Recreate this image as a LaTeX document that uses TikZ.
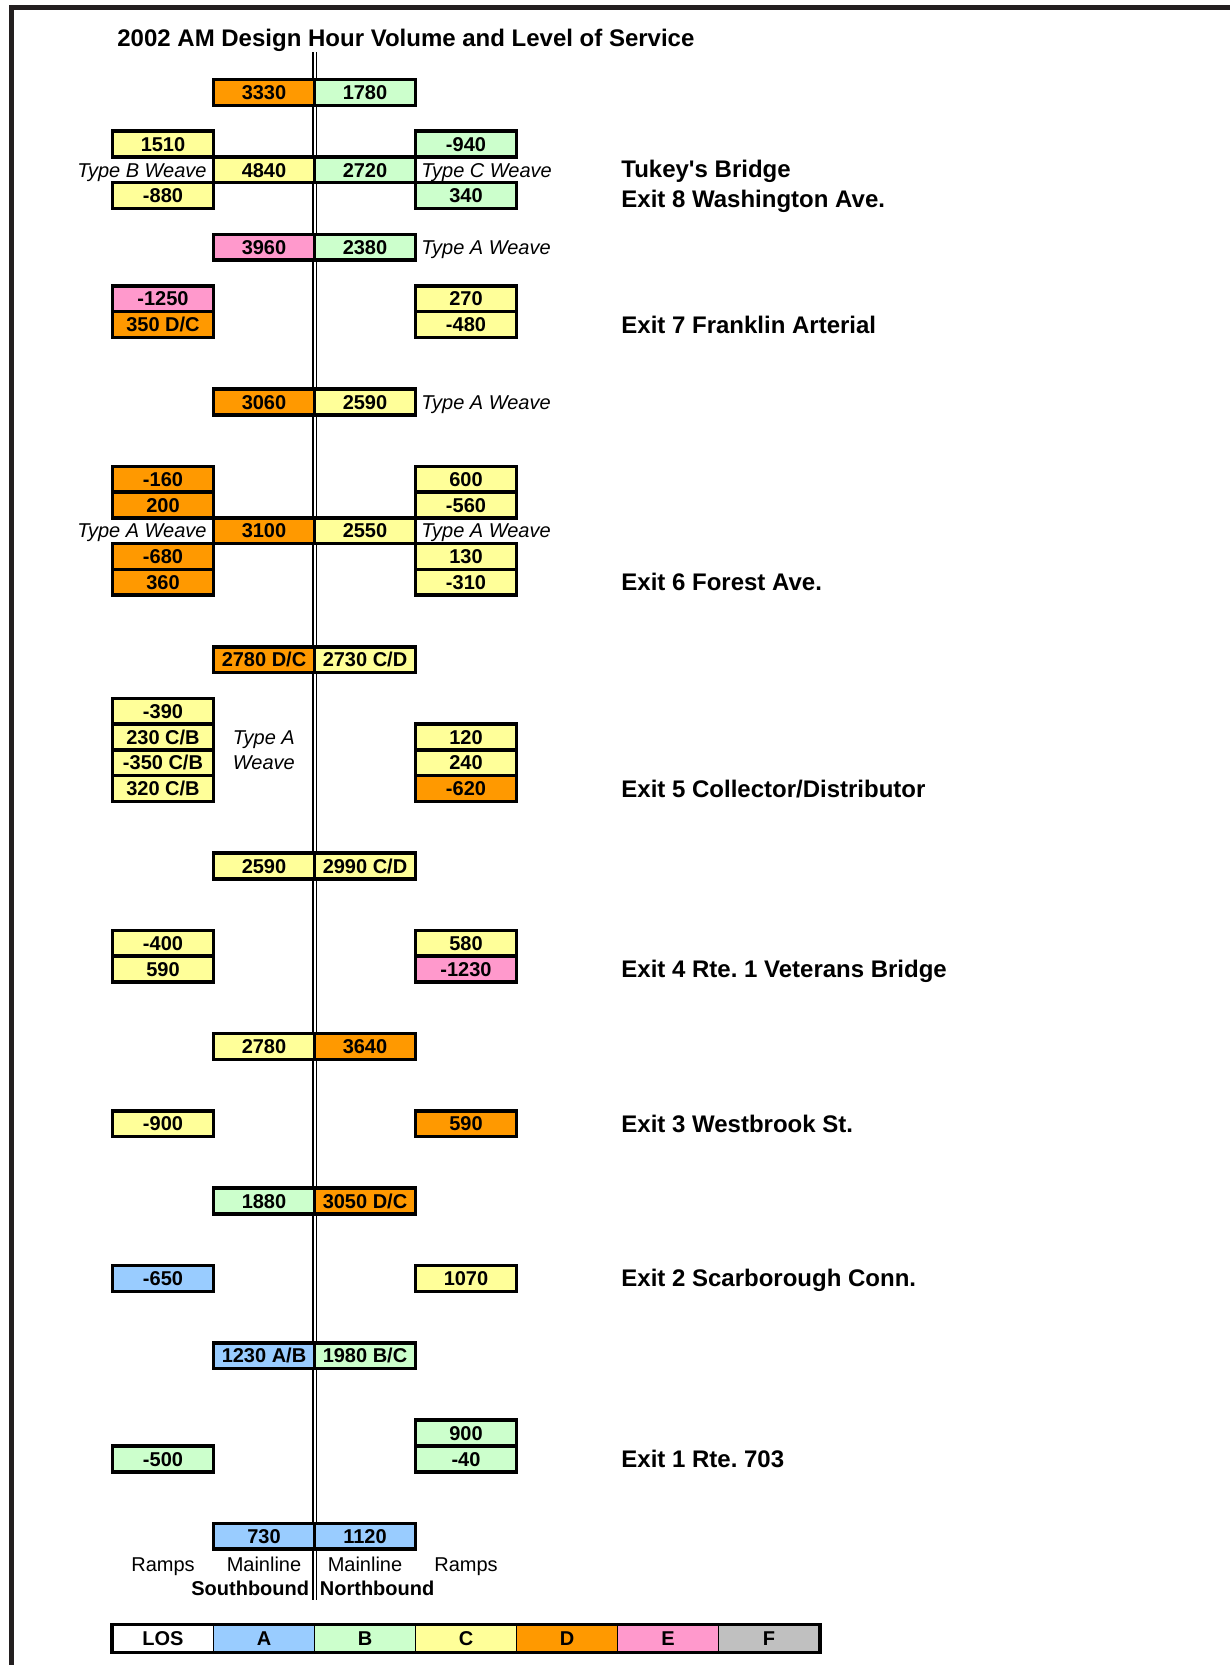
\documentclass[tikz,border=0pt]{standalone}
\usepackage{fontspec}
\setmainfont{Liberation Sans}[Ligatures=TeXOff]
\definecolor{losA}{RGB}{153,204,255}
\definecolor{losB}{RGB}{204,255,204}
\definecolor{losC}{RGB}{255,255,153}
\definecolor{losD}{RGB}{255,153,0}
\definecolor{losE}{RGB}{255,153,204}
\definecolor{losF}{RGB}{192,192,192}
\definecolor{framec}{RGB}{35,31,32}
\newcommand{\bx}[5]{\node[bx,fill=#4] (#1) at (#2,{ry(#3)}) {#5};}
\begin{document}
\frenchspacing
\begin{tikzpicture}[x=0.5pt,y=-0.5pt,
  declare function={ry(\n)=92.5+25.78*\n;},
  bx/.style={draw=black,line width=1.75pt,minimum width=50.5pt,minimum height=12.9pt,inner sep=0pt,
    font=\bfseries\fontsize{10}{12}\selectfont,text height=7.2pt,text depth=0pt},
  wvl/.style={font=\itshape\fontsize{10}{12}\selectfont,inner sep=0pt,text height=7.2pt,text depth=0pt,anchor=east},
  wvr/.style={font=\itshape\fontsize{10}{12}\selectfont,inner sep=0pt,text height=7.2pt,text depth=0pt,anchor=west},
  exl/.style={font=\bfseries\fontsize{12}{14}\selectfont,inner sep=0pt,text height=8.6pt,text depth=0pt,anchor=west},
  btl/.style={font=\fontsize{10}{12}\selectfont,inner sep=0pt,text height=7.2pt,text depth=0pt},
  btb/.style={font=\bfseries\fontsize{10}{12}\selectfont,inner sep=0pt,text height=7.2pt,text depth=0pt},
  lg/.style={draw=black,line width=0.7pt,minimum width=50.5pt,minimum height=13.5pt,inner sep=0pt,
    font=\bfseries\fontsize{10}{12}\selectfont,text height=7.2pt,text depth=0pt}
]
\useasboundingbox (0,0) rectangle (1230,1665);
% frame
\coordinate (frb) at (11.5,1665);
\coordinate (frc) at (11.5,7.5);
\coordinate (frr) at (1230,7.5);
\draw[framec,line width=2.5pt,line join=miter] (frb) -- (frc) -- (frr);
% title
\node[exl,anchor=west] (title) at (117,37.5) {2002 AM Design Hour Volume and Level of Service};
% centre double line
\coordinate (dlt) at (314.5,52);
\coordinate (dlb) at (314.5,1600);
\draw[line width=0.7pt] ([xshift=-0.85pt]dlt) -- ([xshift=-0.85pt]dlb);
\draw[line width=0.7pt] ([xshift=0.85pt]dlt) -- ([xshift=0.85pt]dlb);
% columns: c0=163, c1=264, c2=365, c3=466
\bx{a1}{264}{0}{losD}{3330}
\bx{a2}{365}{0}{losB}{1780}
\bx{b0}{163}{2}{losC}{1510}
\bx{b3}{466}{2}{losB}{-940}
\bx{c1}{264}{3}{losC}{4840}
\bx{c2}{365}{3}{losB}{2720}
\node[wvl] (cwl) at (207,{ry(3)}) {Type B Weave};
\node[wvr] (cwr) at (421,{ry(3)}) {Type C Weave};
\bx{d0}{163}{4}{losC}{-880}
\bx{d3}{466}{4}{losB}{340}
\bx{e1}{264}{6}{losE}{3960}
\bx{e2}{365}{6}{losB}{2380}
\node[wvr] (ewr) at (421,{ry(6)}) {Type A Weave};
\bx{f0}{163}{8}{losE}{-1250}
\bx{f3}{466}{8}{losC}{270}
\bx{g0}{163}{9}{losD}{350 D/C}
\bx{g3}{466}{9}{losC}{-480}
\bx{h1}{264}{12}{losD}{3060}
\bx{h2}{365}{12}{losC}{2590}
\node[wvr] (hwr) at (421,{ry(12)}) {Type A Weave};
\bx{i0}{163}{15}{losD}{-160}
\bx{i3}{466}{15}{losC}{600}
\bx{j0}{163}{16}{losD}{200}
\bx{j3}{466}{16}{losC}{-560}
\bx{k1}{264}{17}{losD}{3100}
\bx{k2}{365}{17}{losC}{2550}
\node[wvl] (kwl) at (207,{ry(17)}) {Type A Weave};
\node[wvr] (kwr) at (421,{ry(17)}) {Type A Weave};
\bx{l0}{163}{18}{losD}{-680}
\bx{l3}{466}{18}{losC}{130}
\bx{m0}{163}{19}{losD}{360}
\bx{m3}{466}{19}{losC}{-310}
\bx{n1}{264}{22}{losD}{2780 D/C}
\bx{n2}{365}{22}{losC}{2730 C/D}
\bx{o0}{163}{24}{losC}{-390}
\bx{p0}{163}{25}{losC}{230 C/B}
\bx{p3}{466}{25}{losC}{120}
\node[wvr] (pwc) at (232.5,{ry(25)}) {Type A};
\bx{q0}{163}{26}{losC}{-350 C/B}
\bx{q3}{466}{26}{losC}{240}
\node[wvr] (qwc) at (232.5,{ry(26)}) {Weave};
\bx{r0}{163}{27}{losC}{320 C/B}
\bx{r3}{466}{27}{losD}{-620}
\bx{s1}{264}{30}{losC}{2590}
\bx{s2}{365}{30}{losC}{2990 C/D}
\bx{t0}{163}{33}{losC}{-400}
\bx{t3}{466}{33}{losC}{580}
\bx{u0}{163}{34}{losC}{590}
\bx{u3}{466}{34}{losE}{-1230}
\bx{v1}{264}{37}{losC}{2780}
\bx{v2}{365}{37}{losD}{3640}
\bx{w0}{163}{40}{losC}{-900}
\bx{w3}{466}{40}{losD}{590}
\bx{x1}{264}{43}{losB}{1880}
\bx{x2}{365}{43}{losD}{3050 D/C}
\bx{y0}{163}{46}{losA}{-650}
\bx{y3}{466}{46}{losC}{1070}
\bx{z1}{264}{49}{losA}{1230 A/B}
\bx{z2}{365}{49}{losB}{1980 B/C}
\bx{za3}{466}{52}{losB}{900}
\bx{zb0}{163}{53}{losB}{-500}
\bx{zb3}{466}{53}{losB}{-40}
\bx{zc1}{264}{56}{losA}{730}
\bx{zc2}{365}{56}{losA}{1120}
% bottom labels
\node[btl] (rl) at (163,1564) {Ramps};
\node[btl] (ml) at (264,1564) {Mainline};
\node[btl] (mr) at (365,1564) {Mainline};
\node[btl] (rr) at (466,1564) {Ramps};
\node[btb,anchor=east] (sb) at (309.5,1588) {Southbound};
\node[btb,anchor=west] (nb) at (319.5,1588) {Northbound};
% exit labels
\node[exl] (x8a) at (621,168.5) {Tukey's Bridge};
\node[exl] (x8b) at (621,199) {Exit 8 Washington Ave.};
\node[exl] (x7) at (621,{ry(9)}) {Exit 7 Franklin Arterial};
\node[exl] (x6) at (621,{ry(19)}) {Exit 6 Forest Ave.};
\node[exl] (x5) at (621,{ry(27)}) {Exit 5 Collector/Distributor};
\node[exl] (x4) at (621,{ry(34)}) {Exit 4 Rte. 1 Veterans Bridge};
\node[exl] (x3) at (621,{ry(40)}) {Exit 3 Westbrook St.};
\node[exl] (x2) at (621,{ry(46)}) {Exit 2 Scarborough Conn.};
\node[exl] (x1) at (621,{ry(53)}) {Exit 1 Rte. 703};
% legend
\node[lg,fill=white] (lgL) at (163,1638.5) {LOS};
\node[lg,fill=losA] (lgA) at (264,1638.5) {A};
\node[lg,fill=losB] (lgB) at (365,1638.5) {B};
\node[lg,fill=losC] (lgC) at (466,1638.5) {C};
\node[lg,fill=losD] (lgD) at (567,1638.5) {D};
\node[lg,fill=losE] (lgE) at (668,1638.5) {E};
\node[lg,fill=losF] (lgF) at (769,1638.5) {F};
\draw[line width=1.75pt] (lgL.north west) rectangle (lgF.south east);
\end{tikzpicture}
\end{document}
